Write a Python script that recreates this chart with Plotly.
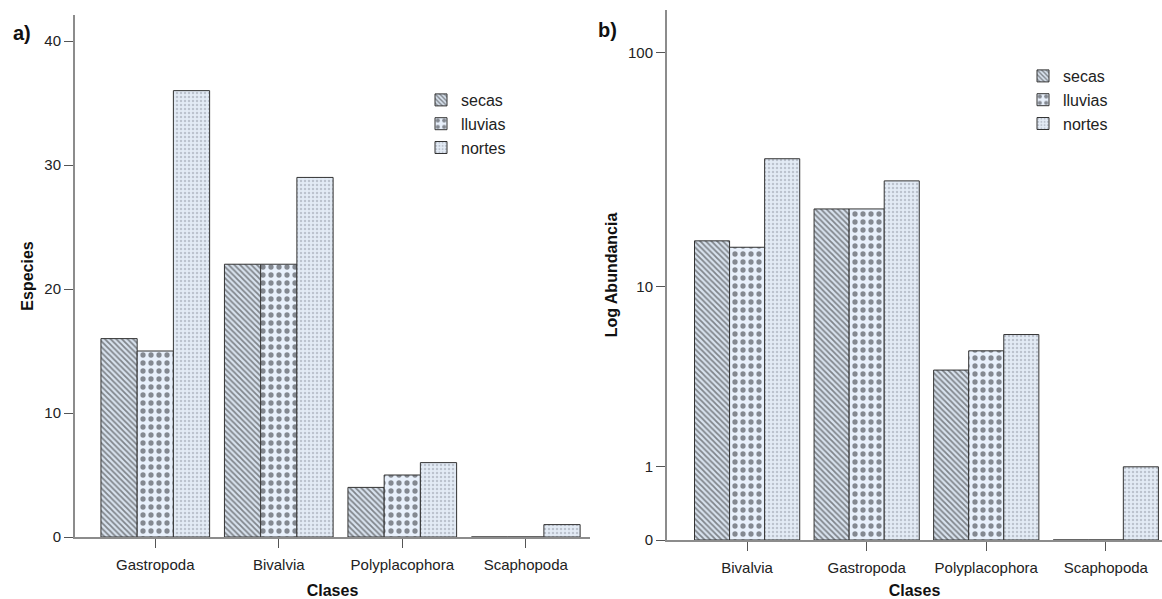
import numpy as np
import plotly.graph_objects as go

# ---- data ----
clases_a = ["Gastropoda", "Bivalvia", "Polyplacophora", "Scaphopoda"]
especies_secas = [16, 22, 4, 0]
especies_lluvias = [15, 22, 5, 0]
especies_nortes = [36, 29, 6, 1]

clases_b = ["Bivalvia", "Gastropoda", "Polyplacophora", "Scaphopoda"]
abund_secas = [16, 22, 4, 0]
abund_lluvias = [15, 22, 5, 0]
abund_nortes = [36, 29, 6, 1]

series = ["secas", "lluvias", "nortes"]
log_ticks = [0, 1, 10, 100]

FONT = "Arial, Liberation Sans, sans-serif"
BG = "#e3ebf5"
styles = {
    "secas": dict(shape="\\", size=4, solidity=0.45, fgcolor="#262626", bgcolor="#d8e2ee"),
    "lluvias": dict(shape=".", size=8, solidity=0.34, fgcolor="#1f2227", bgcolor="#e8f0fb"),
    "nortes": dict(shape=".", size=4, solidity=0.3, fgcolor="#939aa5", bgcolor=BG),
}

fig = go.Figure()

left_vals = [especies_secas, especies_lluvias, especies_nortes]
right_vals = [abund_secas, abund_lluvias, abund_nortes]

for name, vals in zip(series, left_vals):
    fig.add_trace(go.Bar(
        x=clases_a, y=vals, name=name, xaxis="x", yaxis="y", legend="legend",
        marker=dict(color=BG, pattern=styles[name], line=dict(color="#333333", width=1)),
    ))
for name, vals in zip(series, right_vals):
    fig.add_trace(go.Bar(
        x=clases_b, y=np.log10(np.array(vals) + 1), name=name, xaxis="x2", yaxis="y2",
        legend="legend2",
        marker=dict(color=BG, pattern=styles[name], line=dict(color="#333333", width=1)),
    ))

W, H = 1162, 599


def px(x):
    return x / W


def py(y):
    return 1 - y / H


axcommon = dict(showgrid=False, zeroline=False, showline=True, linecolor="#8c8c8c",
                linewidth=2, ticks="outside", ticklen=9, tickcolor="#555", automargin=False,
                tickfont=dict(family=FONT, size=15, color="#222"))

fig.update_layout(
    width=W, height=H, margin=dict(l=0, r=0, t=0, b=0),
    plot_bgcolor="white", paper_bgcolor="white",
    barmode="group", bargap=0.12, bargroupgap=0,
    font=dict(family=FONT),
    xaxis=dict(domain=[px(75), px(590)], anchor="y", range=[-0.65, 3.52], **axcommon,
               ticklabelstandoff=4,
               title=dict(text="<b>Clases</b>", font=dict(size=16, color="#111"), standoff=13)),
    yaxis=dict(domain=[py(537), py(15)], anchor="x", range=[0, 42.1],
               tickvals=[0, 10, 20, 30, 40], **axcommon,
               title=dict(text="<b>Especies</b>", font=dict(size=16, color="#111"), standoff=7)),
    xaxis2=dict(domain=[px(667), px(1162)], anchor="y2", range=[-0.67, 3.47], **axcommon,
                ticklabelstandoff=4,
                title=dict(text="<b>Clases</b>", font=dict(size=16, color="#111"), standoff=13)),
    yaxis2=dict(domain=[py(540), py(10)], anchor="x2", range=[0, 2.18],
                tickvals=[np.log10(t + 1) for t in log_ticks],
                ticktext=[str(t) for t in log_ticks], **axcommon,
                title=dict(text="<b>Log Abundancia</b>", font=dict(size=16, color="#111"), standoff=6)),
    legend=dict(x=px(421), y=py(83), xanchor="left", yanchor="top",
                font=dict(family=FONT, size=16, color="#222"), itemwidth=30,
                bgcolor="rgba(0,0,0,0)", tracegroupgap=0),
    legend2=dict(x=px(1023), y=py(59), xanchor="left", yanchor="top",
                 font=dict(family=FONT, size=16, color="#222"), itemwidth=30,
                 bgcolor="rgba(0,0,0,0)", tracegroupgap=0),
    annotations=[
        dict(text="<b>a)</b>", x=px(11), y=py(33), xref="paper", yref="paper",
             xanchor="left", yanchor="middle", showarrow=False,
             font=dict(family=FONT, size=20, color="#111")),
        dict(text="<b>b)</b>", x=px(596), y=py(30), xref="paper", yref="paper",
             xanchor="left", yanchor="middle", showarrow=False,
             font=dict(family=FONT, size=20, color="#111")),
    ],
)

fig.write_html("out.html", config={"displayModeBar": False},
               post_script="document.body.style.margin='0';document.body.style.overflow='hidden';")
